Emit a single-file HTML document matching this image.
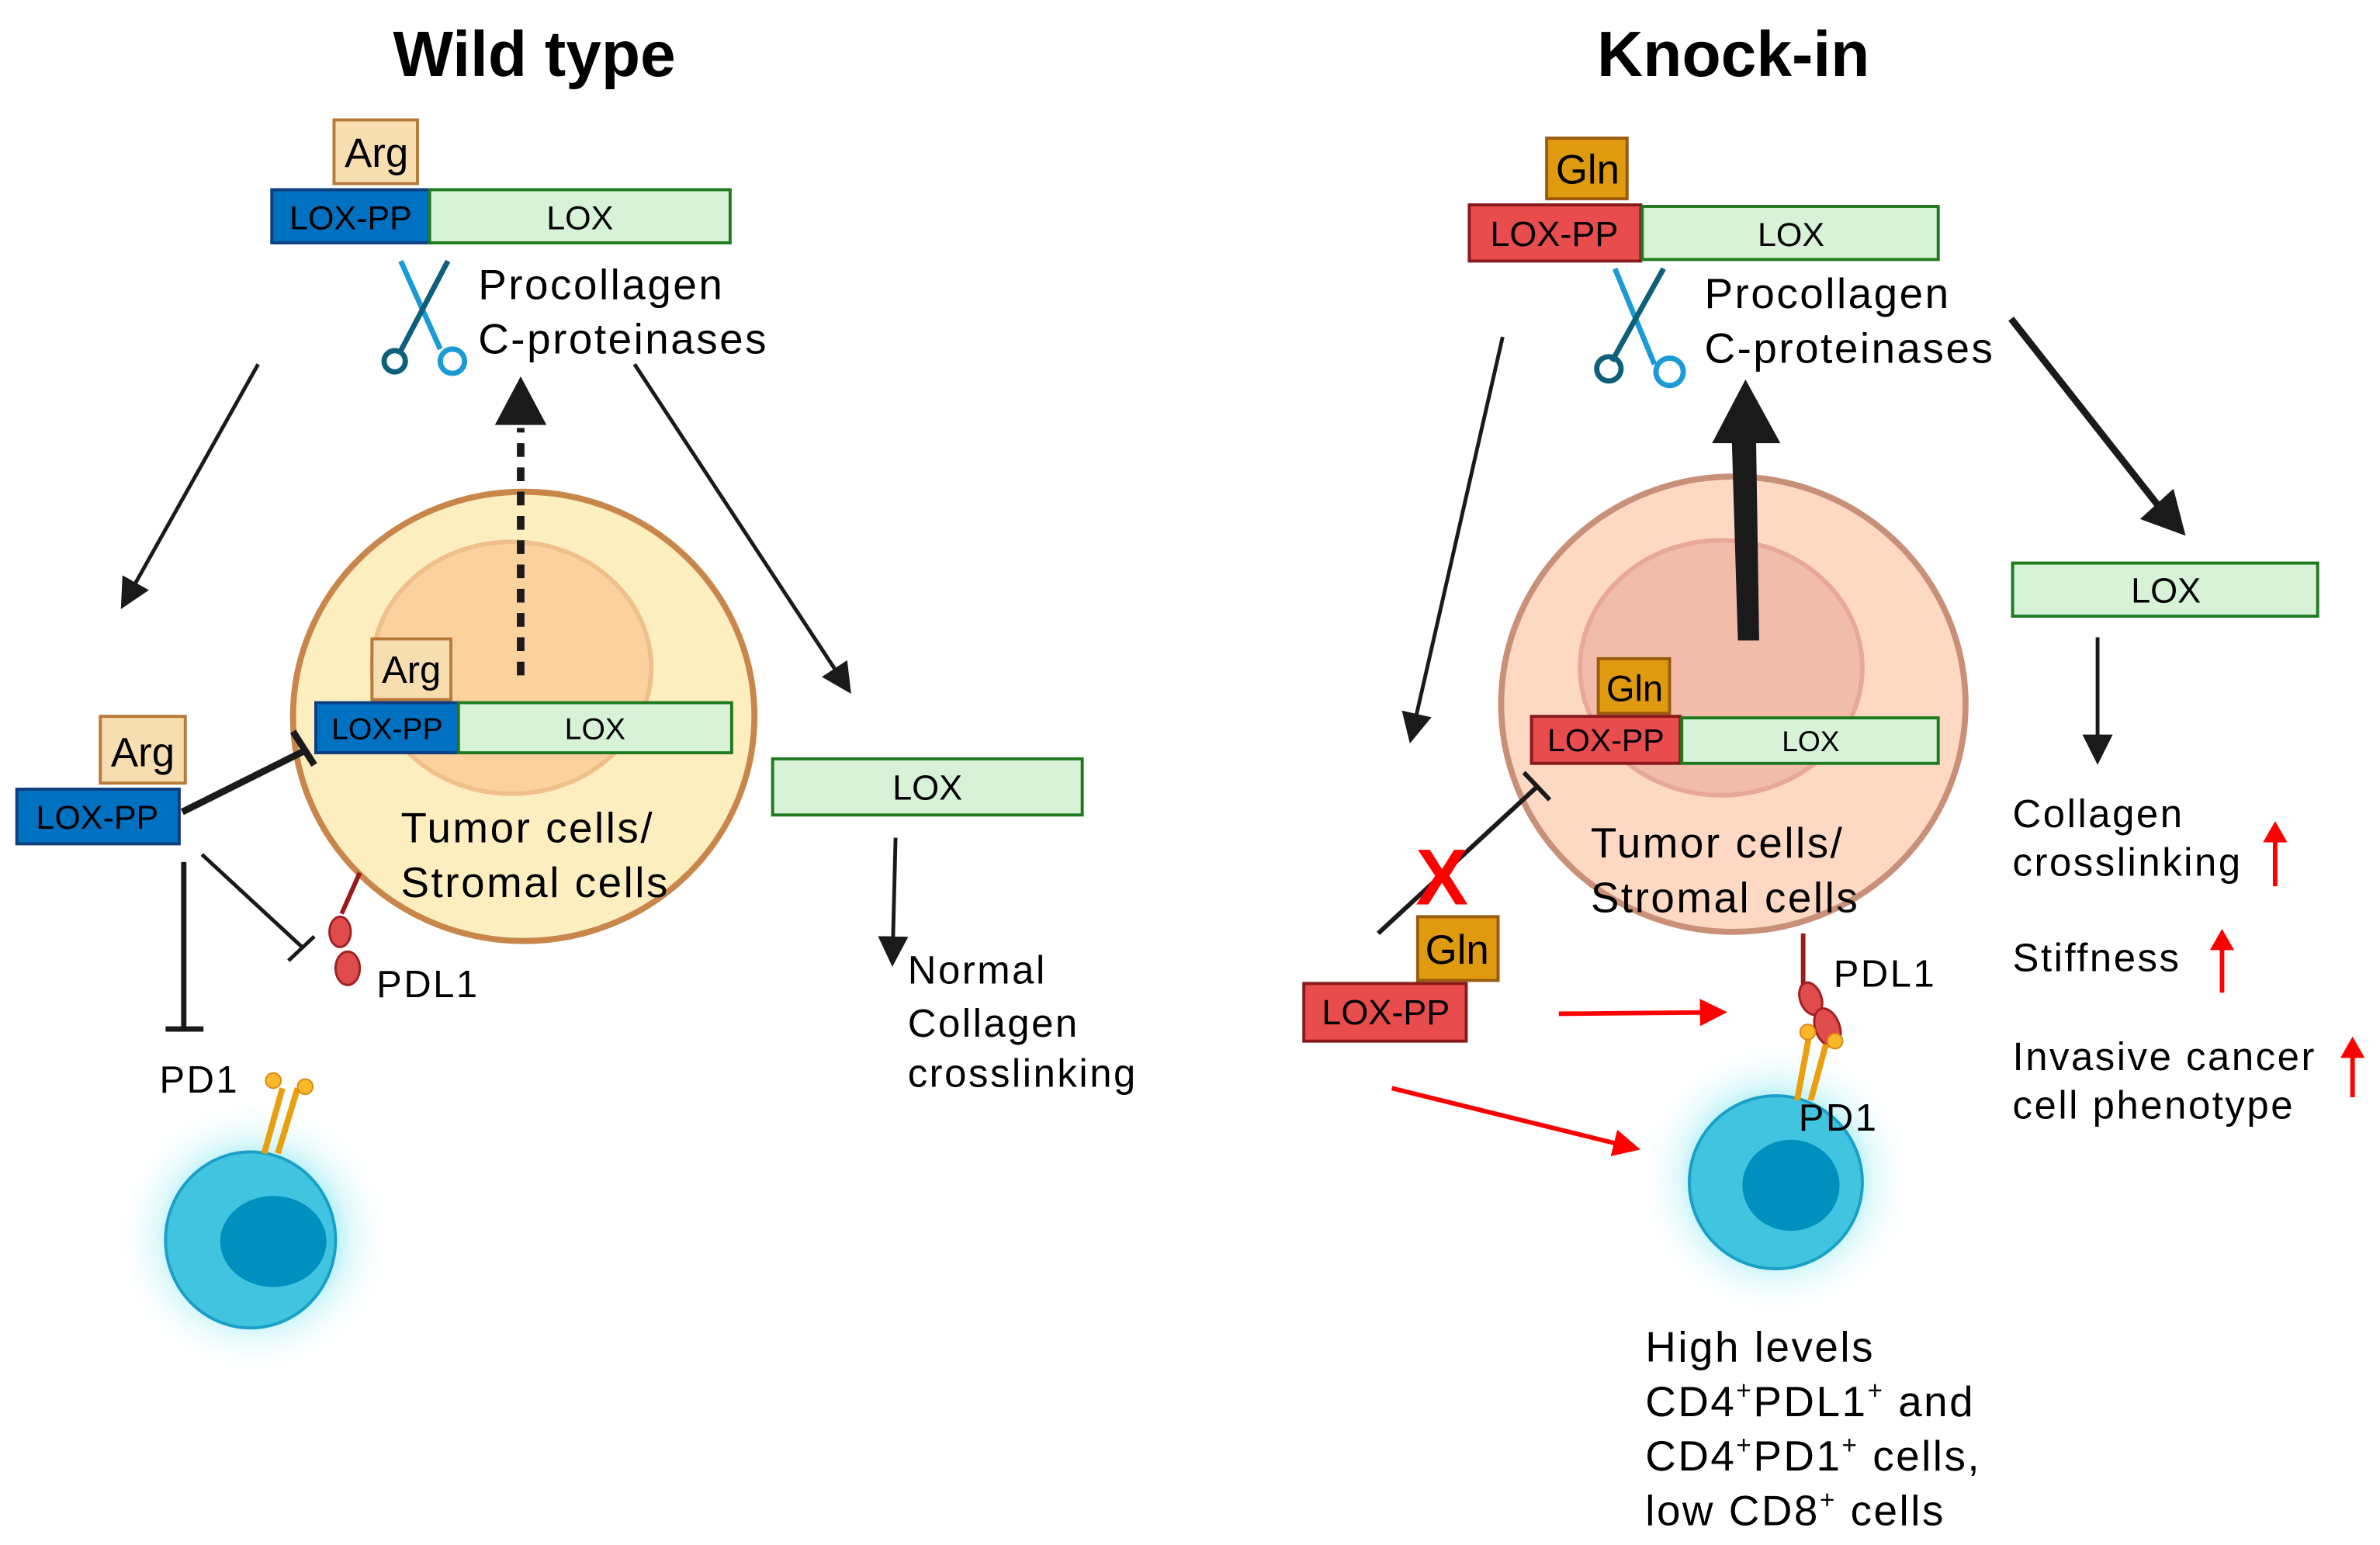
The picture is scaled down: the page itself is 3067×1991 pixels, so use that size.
<!DOCTYPE html>
<html><head><meta charset="utf-8"><style>html,body{margin:0;padding:0;background:#fff}svg{display:block}.t{letter-spacing:1.3px}</style></head>
<body>
<svg width="3067" height="1991" viewBox="0 0 1568 1018" xmlns="http://www.w3.org/2000/svg" font-family="Liberation Sans, Arial, sans-serif">
<defs>
<radialGradient id="glow"><stop offset="0.5" stop-color="#7fe6f0" stop-opacity="0.9"/><stop offset="0.7" stop-color="#c8f4f8" stop-opacity="0.55"/><stop offset="1" stop-color="#fff" stop-opacity="0"/></radialGradient>
<marker id="ah" markerWidth="8" markerHeight="8" refX="6" refY="4" orient="auto" markerUnits="strokeWidth"><path d="M0,0 L8,4 L0,8 z" fill="#1a1a1a"/></marker>
<marker id="ahr" markerWidth="6" markerHeight="6" refX="4" refY="3" orient="auto" markerUnits="strokeWidth"><path d="M0,0 L6,3 L0,6 z" fill="#f00"/></marker>
</defs>
<rect width="1568" height="1018" fill="#fff"/>

<!-- LEFT PANEL -->
<text x="352" y="50" font-size="42" font-weight="bold" text-anchor="middle">Wild type</text>
<rect x="220" y="79" width="55" height="42" fill="#f7deb0" stroke="#b87a3a" stroke-width="2"/>
<text x="248" y="110" font-size="27" text-anchor="middle">Arg</text>
<rect x="179" y="125" width="104" height="35" fill="#0070c0" stroke="#0c3f80" stroke-width="2"/>
<rect x="283" y="125" width="198" height="35" fill="#d8f2d8" stroke="#1e7a1e" stroke-width="2"/>
<text x="231" y="151" font-size="22" text-anchor="middle">LOX-PP</text>
<text x="382" y="151" font-size="22" text-anchor="middle">LOX</text>
<g stroke-width="3.5" fill="none">
<line x1="264" y1="172" x2="290" y2="230" stroke="#1a9ad6"/>
<line x1="295" y1="172" x2="263" y2="233" stroke="#0e5f7a"/>
<circle cx="260" cy="238" r="7" stroke="#0e5f7a"/>
<circle cx="298" cy="238" r="8" stroke="#1a9ad6"/>
</g>
<text class="t" x="315" y="197" font-size="28">Procollagen</text>
<text class="t" x="315" y="233" font-size="28">C-proteinases</text>
<line x1="170" y1="240" x2="82" y2="397" stroke="#1a1a1a" stroke-width="2.5" marker-end="url(#ah)"/>
<line x1="418" y1="240" x2="558" y2="453" stroke="#1a1a1a" stroke-width="2.5" marker-end="url(#ah)"/>
<ellipse cx="345" cy="472" rx="152" ry="148" fill="#fdeec0" stroke="#c8864a" stroke-width="4"/>
<ellipse cx="337" cy="440" rx="92" ry="83" fill="#fbd29e" stroke="#f0c08c" stroke-width="3"/>
<line x1="343" y1="445" x2="343" y2="282" stroke="#1a1a1a" stroke-width="5" stroke-dasharray="9,7"/>
<path d="M326,280 L343,248 L360,280 z" fill="#1a1a1a"/>
<rect x="245" y="421" width="52" height="40" fill="#f7deb0" stroke="#b87a3a" stroke-width="2"/>
<text x="271" y="450" font-size="25" text-anchor="middle">Arg</text>
<rect x="208" y="463" width="94" height="33" fill="#0070c0" stroke="#0c3f80" stroke-width="2"/>
<rect x="302" y="463" width="180" height="33" fill="#d8f2d8" stroke="#1e7a1e" stroke-width="2"/>
<text x="255" y="487" font-size="20" text-anchor="middle">LOX-PP</text>
<text x="392" y="487" font-size="20" text-anchor="middle">LOX</text>
<text class="t" x="264" y="555" font-size="28">Tumor cells/</text>
<text class="t" x="264" y="591" font-size="28">Stromal cells</text>
<rect x="66" y="472" width="56" height="44" fill="#f7deb0" stroke="#b87a3a" stroke-width="2"/>
<text x="94" y="505" font-size="27" text-anchor="middle">Arg</text>
<rect x="11" y="520" width="107" height="36" fill="#0070c0" stroke="#0c3f80" stroke-width="2"/>
<text x="64" y="546" font-size="22" text-anchor="middle">LOX-PP</text>
<g stroke="#1a1a1a" fill="none">
<line x1="120" y1="535" x2="200" y2="495" stroke-width="4.5"/>
<line x1="193" y1="482" x2="207" y2="504" stroke-width="4.5"/>
<line x1="133" y1="563" x2="200" y2="625" stroke-width="2.5"/>
<line x1="190" y1="633" x2="207" y2="617" stroke-width="2.5"/>
<line x1="121" y1="568" x2="121" y2="678" stroke-width="3.5"/>
<line x1="109" y1="678" x2="134" y2="678" stroke-width="3.5"/>
</g>
<line x1="237" y1="575" x2="225" y2="602" stroke="#9a1a1a" stroke-width="3"/>
<ellipse cx="224" cy="614" rx="7" ry="10" fill="#e04c4c" stroke="#a02020" stroke-width="1.5"/>
<ellipse cx="229" cy="638" rx="8" ry="11" fill="#e04c4c" stroke="#a02020" stroke-width="1.5"/>
<text class="t" x="248" y="657" font-size="25">PDL1</text>
<text class="t" x="105" y="720" font-size="25">PD1</text>
<circle cx="167" cy="815" r="92" fill="url(#glow)"/>
<ellipse cx="165" cy="817" rx="56" ry="58" fill="#40c4e0" stroke="#1aa0c8" stroke-width="2"/>
<ellipse cx="180" cy="818" rx="35" ry="30" fill="#0090c0"/>
<g stroke="#e8a010" stroke-width="4">
<line x1="174" y1="760" x2="186" y2="717"/><line x1="183" y1="760" x2="196" y2="717"/>
</g>
<circle cx="180" cy="712" r="5" fill="#fbb82a" stroke="#d88a10"/><circle cx="201" cy="716" r="5" fill="#fbb82a" stroke="#d88a10"/>
<rect x="509" y="500" width="204" height="37" fill="#d8f2d8" stroke="#1e7a1e" stroke-width="2"/>
<text x="611" y="527" font-size="23" text-anchor="middle">LOX</text>
<line x1="590" y1="552" x2="588" y2="632" stroke="#1a1a1a" stroke-width="2.5" marker-end="url(#ah)"/>
<text class="t" x="598" y="648" font-size="26">Normal</text>
<text class="t" x="598" y="683" font-size="26">Collagen</text>
<text class="t" x="598" y="716" font-size="26">crosslinking</text>

<!-- RIGHT PANEL -->
<text x="1142" y="50" font-size="42" font-weight="bold" text-anchor="middle">Knock-in</text>
<rect x="1019" y="91" width="53" height="40" fill="#e09a10" stroke="#9a5a10" stroke-width="2"/>
<text x="1046" y="121" font-size="27" text-anchor="middle">Gln</text>
<rect x="968" y="135" width="113" height="37" fill="#e84c4c" stroke="#8a1a1a" stroke-width="2"/>
<rect x="1082" y="136" width="195" height="35" fill="#d8f2d8" stroke="#1e7a1e" stroke-width="2"/>
<text x="1024" y="162" font-size="23" text-anchor="middle">LOX-PP</text>
<text x="1180" y="162" font-size="22" text-anchor="middle">LOX</text>
<g stroke-width="3.5" fill="none">
<line x1="1064" y1="177" x2="1090" y2="240" stroke="#1a9ad6"/>
<line x1="1096" y1="177" x2="1062" y2="238" stroke="#0e5f7a"/>
<circle cx="1060" cy="243" r="8" stroke="#0e5f7a"/>
<circle cx="1100" cy="245" r="9" stroke="#1a9ad6"/>
</g>
<text class="t" x="1123" y="203" font-size="28">Procollagen</text>
<text class="t" x="1123" y="239" font-size="28">C-proteinases</text>
<line x1="990" y1="222" x2="930" y2="485" stroke="#1a1a1a" stroke-width="2.5" marker-end="url(#ah)"/>
<line x1="1325" y1="210" x2="1425" y2="337" stroke="#1a1a1a" stroke-width="4.5"/>
<path d="M1440,353 L1410,342 L1432,322 z" fill="#1a1a1a"/>
<ellipse cx="1142" cy="464" rx="153" ry="150" fill="#fdd9c4" stroke="#c89078" stroke-width="4"/>
<ellipse cx="1134" cy="440" rx="93" ry="84" fill="#f2bcaa" stroke="#e8a898" stroke-width="3"/>
<path d="M1145,422 L1159,422 L1157,290 L1141,290 z" fill="#1a1a1a"/>
<path d="M1128,292 L1150,250 L1173,292 z" fill="#1a1a1a"/>
<rect x="1053" y="434" width="47" height="36" fill="#e09a10" stroke="#9a5a10" stroke-width="2"/>
<text x="1077" y="462" font-size="24" text-anchor="middle">Gln</text>
<rect x="1009" y="472" width="98" height="31" fill="#e84c4c" stroke="#8a1a1a" stroke-width="2"/>
<rect x="1108" y="473" width="169" height="30" fill="#d8f2d8" stroke="#1e7a1e" stroke-width="2"/>
<text x="1058" y="495" font-size="21" text-anchor="middle">LOX-PP</text>
<text x="1193" y="495" font-size="19" text-anchor="middle">LOX</text>
<text class="t" x="1048" y="565" font-size="28">Tumor cells/</text>
<text class="t" x="1048" y="601" font-size="28">Stromal cells</text>
<line x1="908" y1="615" x2="1012" y2="519" stroke="#1a1a1a" stroke-width="3"/>
<line x1="1004" y1="509" x2="1021" y2="527" stroke="#1a1a1a" stroke-width="3"/>
<text x="950" y="596" font-size="52" font-weight="bold" fill="#f00" text-anchor="middle">X</text>
<rect x="934" y="604" width="53" height="42" fill="#e09a10" stroke="#9a5a10" stroke-width="2"/>
<text x="960" y="635" font-size="27" text-anchor="middle">Gln</text>
<rect x="859" y="648" width="107" height="38" fill="#e84c4c" stroke="#8a1a1a" stroke-width="2"/>
<text x="913" y="675" font-size="23" text-anchor="middle">LOX-PP</text>
<line x1="1027" y1="668" x2="1132" y2="667" stroke="#f00" stroke-width="3" marker-end="url(#ahr)"/>
<line x1="917" y1="717" x2="1075" y2="756" stroke="#f00" stroke-width="3" marker-end="url(#ahr)"/>
<circle cx="1170" cy="777" r="92" fill="url(#glow)"/>
<ellipse cx="1170" cy="779" rx="57" ry="57" fill="#40c4e0" stroke="#1aa0c8" stroke-width="2"/>
<ellipse cx="1180" cy="781" rx="32" ry="30" fill="#0090c0"/>
<line x1="1188" y1="615" x2="1188" y2="650" stroke="#9a1a1a" stroke-width="3"/>
<ellipse cx="1193" cy="658" rx="7" ry="11" fill="#e04c4c" stroke="#a02020" stroke-width="1.5" transform="rotate(-20 1193 658)"/>
<ellipse cx="1204" cy="677" rx="8" ry="13" fill="#e04c4c" stroke="#a02020" stroke-width="1.5" transform="rotate(-20 1204 677)"/>
<g stroke="#e8a010" stroke-width="4">
<line x1="1184" y1="725" x2="1192" y2="682"/><line x1="1193" y1="725" x2="1203" y2="688"/>
</g>
<circle cx="1191" cy="680" r="5" fill="#fbb82a" stroke="#d88a10"/><circle cx="1209" cy="686" r="5" fill="#fbb82a" stroke="#d88a10"/>
<text class="t" x="1208" y="650" font-size="25">PDL1</text>
<text class="t" x="1185" y="745" font-size="25">PD1</text>
<text class="t" x="1084" y="897" font-size="28">High levels</text>
<text class="t" x="1084" y="933" font-size="28">CD4<tspan font-size="17" dy="-11">+</tspan><tspan dy="11">PDL1</tspan><tspan font-size="17" dy="-11">+</tspan><tspan dy="11"> and</tspan></text>
<text class="t" x="1084" y="969" font-size="28">CD4<tspan font-size="17" dy="-11">+</tspan><tspan dy="11">PD1</tspan><tspan font-size="17" dy="-11">+</tspan><tspan dy="11"> cells,</tspan></text>
<text class="t" x="1084" y="1005" font-size="28">low CD8<tspan font-size="17" dy="-11">+</tspan><tspan dy="11"> cells</tspan></text>
<rect x="1326" y="371" width="201" height="35" fill="#d8f2d8" stroke="#1e7a1e" stroke-width="2"/>
<text x="1427" y="397" font-size="23" text-anchor="middle">LOX</text>
<line x1="1382" y1="420" x2="1382" y2="499" stroke="#1a1a1a" stroke-width="2.5" marker-end="url(#ah)"/>
<text class="t" x="1326" y="545" font-size="26">Collagen</text>
<text class="t" x="1326" y="577" font-size="26">crosslinking</text>
<text class="t" x="1326" y="640" font-size="26">Stiffness</text>
<text class="t" x="1326" y="705" font-size="26">Invasive cancer</text>
<text class="t" x="1326" y="737" font-size="26">cell  phenotype</text>
<g stroke="#f00" stroke-width="3" fill="#f00">
<line x1="1499" y1="584" x2="1499" y2="552"/><path d="M1491,555 L1499,541 L1507,555 z" stroke="none"/>
<line x1="1464" y1="654" x2="1464" y2="623"/><path d="M1456,626 L1464,612 L1472,626 z" stroke="none"/>
<line x1="1550" y1="723" x2="1550" y2="694"/><path d="M1542,697 L1550,683 L1558,697 z" stroke="none"/>
</g>
</svg>
</body></html>
